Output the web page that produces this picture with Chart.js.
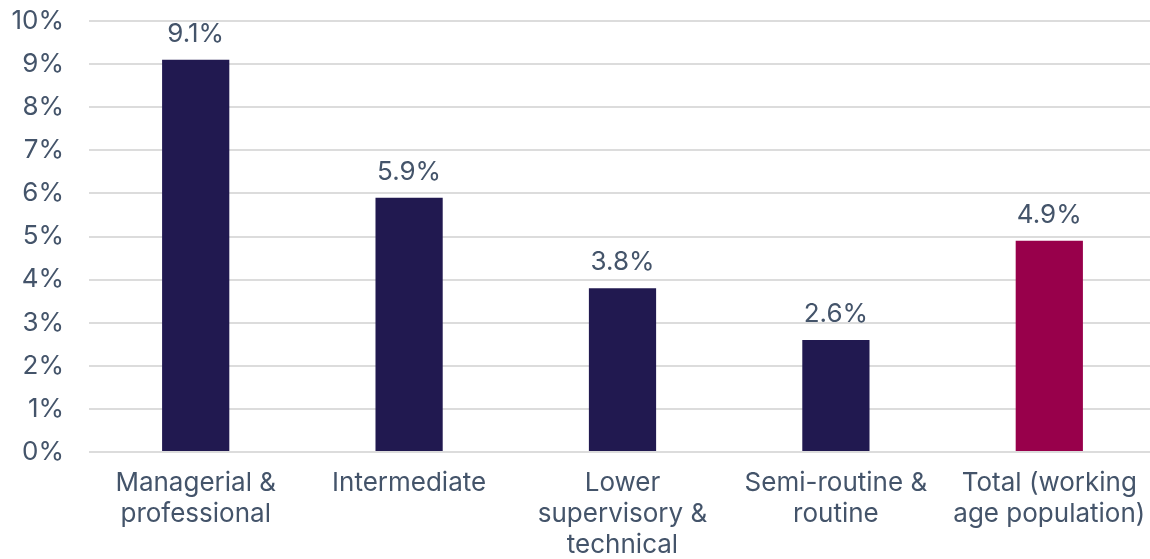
<!DOCTYPE html>
<html>
<head>
<meta charset="utf-8">
<script src="https://cdn.jsdelivr.net/npm/chart.js@4"></script>
<style>
  html, body { margin: 0; padding: 0; background: #fff; overflow: hidden; }
  #wrap { width: 1156px; height: 559px; }
</style>
</head>
<body>
<div id="wrap"><canvas id="barChart"></canvas></div>
<script>
let categories = [
  ["Managerial &", "professional"],
  ["Intermediate"],
  ["Lower", "supervisory &", "technical"],
  ["Semi-routine &", "routine"],
  ["Total (working", "age population)"]
];
let values = [9.1, 5.9, 3.8, 2.6, 4.9];
let barColors = ["#211950", "#211950", "#211950", "#211950", "#98004b"];
let yTicks = [0, 1, 2, 3, 4, 5, 6, 7, 8, 9, 10];

let textColor = "#44546a";
let fontFamily = "Inter, 'Open Sans', sans-serif";

// draws the value above each bar
let valueLabels = {
  id: "valueLabels",
  afterDatasetsDraw(chart) {
    let ctx = chart.ctx;
    ctx.save();
    ctx.font = "26px " + fontFamily;
    ctx.fillStyle = textColor;
    ctx.textAlign = "center";
    ctx.textBaseline = "alphabetic";
    chart.getDatasetMeta(0).data.forEach((bar, i) => {
      ctx.fillText(values[i].toFixed(1) + "%", bar.x, bar.y - 18);
    });
    ctx.restore();
  }
};

window.onload = function() {
  let barChart = document.getElementById("barChart").getContext("2d");
  window.myBar = new Chart(barChart, {
    type: "bar",
    data: {
      labels: categories,
      datasets: [{
        data: values,
        backgroundColor: barColors,
        barPercentage: 0.63,
        categoryPercentage: 0.5
      }]
    },
    options: {
      responsive: true,
      maintainAspectRatio: false,
      animation: false,
      layout: { padding: 0 },
      plugins: {
        legend: { display: false },
        tooltip: { enabled: false }
      },
      scales: {
        x: {
          afterFit(scale) {
            scale.height = 107;
            scale.paddingRight = 0;
          },
          grid: { display: false, drawTicks: false },
          border: { display: false },
          ticks: {
            color: textColor,
            font: { family: fontFamily, size: 26, lineHeight: 1.19 },
            maxRotation: 0,
            autoSkip: false,
            padding: 16
          }
        },
        y: {
          min: 0,
          max: 10,
          afterFit(scale) {
            scale.width = 89;
            scale.paddingTop = 21;
            scale.paddingBottom = 0;
          },
          afterBuildTicks(scale) { scale.ticks = yTicks.map(v => ({ value: v })); },
          grid: { color: "#dcdcdc", lineWidth: 2, drawTicks: false },
          border: { display: false },
          ticks: {
            color: textColor,
            font: { family: fontFamily, size: 26 },
            padding: 25,
            callback: v => v + "%"
          }
        }
      }
    },
    plugins: [valueLabels]
  });
};
</script>
</body>
</html>
